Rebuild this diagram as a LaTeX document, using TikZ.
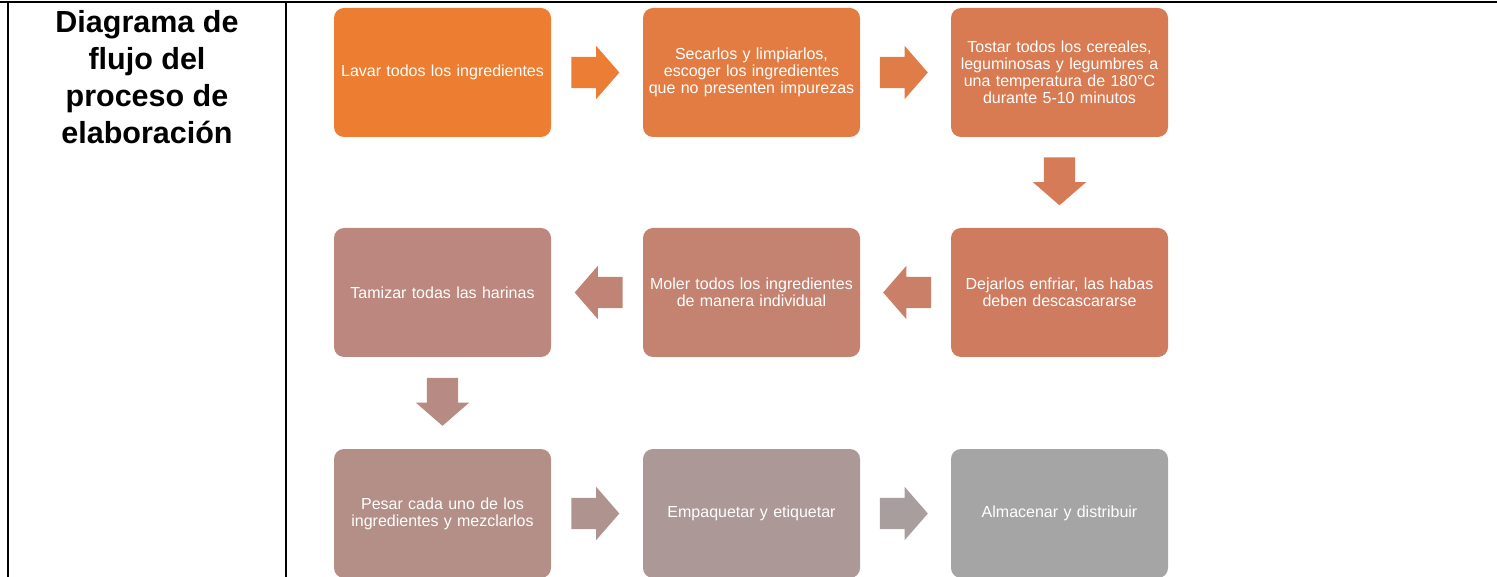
\documentclass[tikz,border=0pt]{standalone}
\usepackage{fontspec}
\setmainfont{Liberation Sans}
\usetikzlibrary{positioning,shapes.arrows,calc}
\definecolor{c1}{HTML}{ED7D31}
\definecolor{c2}{HTML}{E37C42}
\definecolor{c3}{HTML}{D97B52}
\definecolor{c4}{HTML}{CF7B60}
\definecolor{c5}{HTML}{C48270}
\definecolor{c6}{HTML}{BC877E}
\definecolor{c7}{HTML}{B38F88}
\definecolor{c8}{HTML}{AB9897}
\definecolor{c9}{HTML}{A5A5A5}
\tikzset{
  paso/.style={rectangle, rounded corners=10pt, minimum width=217pt, minimum height=129pt,
    text width=214pt, align=center, text=white, inner sep=0pt, font=\fontsize{16}{17}\selectfont},
  flecha/.style={single arrow, single arrow head extend=11pt, single arrow tip angle=98,
    minimum height=48pt, inner xsep=0pt, inner ysep=15.5pt, xshift=-8.5pt},
  flechaizq/.style={flecha, shape border rotate=180, xshift=17pt},
  flechaabajo/.style={flecha, shape border rotate=270, inner xsep=15.5pt, inner ysep=0pt,
    xshift=8.5pt, yshift=8pt}
}

\begin{document}
\begin{tikzpicture}[x=1pt,y=-1pt]
\useasboundingbox (0,0) rectangle (1497,577);
\draw[line width=2.5pt] (0,2) -- (1497,2);
\draw[line width=2pt] (8,2) -- (8,577);
\draw[line width=2pt] (286,2) -- (286,577);

\node[anchor=north, align=center, inner sep=0pt, font=\bfseries\fontsize{30.5}{37}\selectfont] (titulo) at (147,10) {Diagrama de\\ flujo del\\ proceso de\\ elaboración};

\node[paso, fill=c1] (s1) at (442.5,72.5) {Lavar todos los ingredientes};
\node[paso, fill=c2] (s2) at (751.5,72.5) {Secarlos y limpiarlos,\\ escoger los ingredientes\\ que no presenten impurezas};
\node[paso, fill=c3] (s3) at (1059.5,72.5) {Tostar todos los cereales,\\ leguminosas y legumbres a\\ una temperatura de 180°C\\ durante 5-10 minutos};

\node[paso, fill=c4] (s4) at (1059.5,292.5) {Dejarlos enfriar, las habas\\ deben descascararse};
\node[paso, fill=c5] (s5) at (751.5,292.5) {Moler todos los ingredientes\\ de manera individual};
\node[paso, fill=c6] (s6) at (442.5,292.5) {Tamizar todas las harinas};

\node[paso, fill=c7] (s7) at (442.5,513.5) {Pesar cada uno de los\\ ingredientes y mezclarlos};
\node[paso, fill=c8] (s8) at (751.5,513.5) {Empaquetar y etiquetar};
\node[paso, fill=c9] (s9) at (1059.5,513.5) {Almacenar y distribuir};

\node[flecha, fill=c1!80!c2] (f1) at ($(s1.east)!0.5!(s2.west)$) {};
\node[flecha, fill=c2!60!c3] (f2) at ($(s2.east)!0.5!(s3.west)$) {};
\node[flechaabajo, fill=c3!60!c4] (f3) at ($(s3.south)!0.5!(s4.north)$) {};
\node[flechaizq, fill=c4!50!c5] (f4) at ($(s4.west)!0.5!(s5.east)$) {};
\node[flechaizq, fill=c5!50!c6] (f5) at ($(s5.west)!0.5!(s6.east)$) {};
\node[flechaabajo, fill=c6!50!c7] (f6) at ($(s6.south)!0.5!(s7.north)$) {};
\node[flecha, fill=c7!50!c8] (f7) at ($(s7.east)!0.5!(s8.west)$) {};
\node[flecha, fill=c8!50!c9] (f8) at ($(s8.east)!0.5!(s9.west)$) {};

\end{tikzpicture}
\end{document}
